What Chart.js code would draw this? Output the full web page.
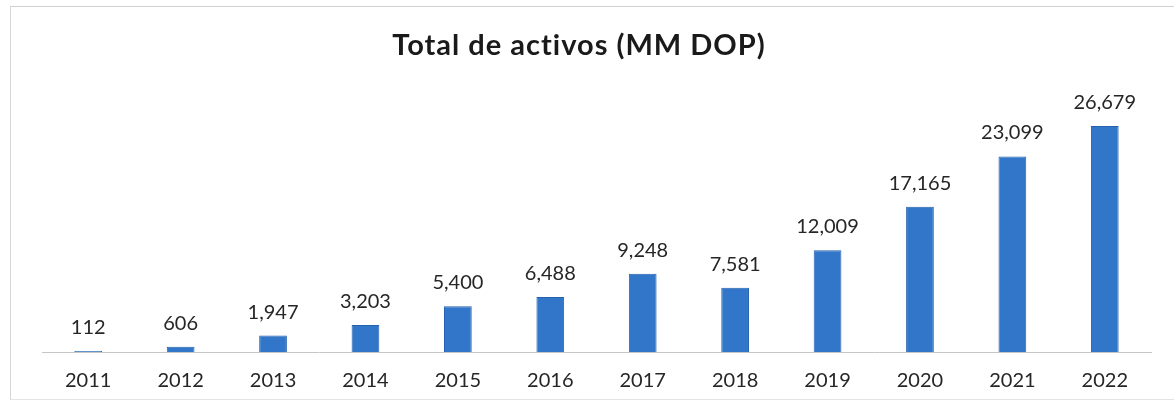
<!DOCTYPE html>
<html lang="es">
<head>
    <meta charset="UTF-8">
    <title>Total de activos (MM DOP)</title>
    <script src="https://cdn.jsdelivr.net/npm/chart.js"></script>
    <style>
        html, body { margin: 0; padding: 0; background: #fff; overflow: hidden; }
        .frame {
            position: absolute;
            left: 10px; top: 6px;
            width: 1170px; height: 392px;
            border-top: 1px solid #d0d0d0;
            border-left: 1px solid #d6d6d6;
            border-bottom: 1px solid #e4e4e4;
        }
        .chart-wrapper { position: absolute; left: 0; top: 0; width: 1174px; height: 404px; overflow: hidden; }
    </style>
</head>
<body>
    <div class="frame"></div>
    <div class="chart-wrapper">
        <canvas id="assetsChart" width="1174" height="410"></canvas>
    </div>

    <script>
        // data
        const years = ['2011', '2012', '2013', '2014', '2015', '2016', '2017', '2018', '2019', '2020', '2021', '2022'];
        const totalAssets = [112, 606, 1947, 3203, 5400, 6488, 9248, 7581, 12009, 17165, 23099, 26679];
        const chartTitle = 'Total de activos (MM DOP)';

        const FONT = 'Lato, "Open Sans", sans-serif';

        // title drawn a bit left of the plot centre, like the original
        const titleText = {
            id: 'titleText',
            afterDraw(chart) {
                const ctx = chart.ctx;
                ctx.save();
                ctx.font = 'bold 29px ' + FONT;
                ctx.letterSpacing = '1px';
                ctx.fillStyle = '#1a1a1a';
                ctx.textAlign = 'center';
                ctx.textBaseline = 'alphabetic';
                ctx.fillText(chartTitle, 579, 55);
                ctx.restore();
            }
        };

        // value labels above each bar
        const valueLabels = {
            id: 'valueLabels',
            afterDatasetsDraw(chart) {
                const ctx = chart.ctx;
                const meta = chart.getDatasetMeta(0);
                ctx.save();
                ctx.font = '20px ' + FONT;
                ctx.fillStyle = '#262626';
                ctx.textAlign = 'center';
                ctx.textBaseline = 'alphabetic';
                meta.data.forEach((bar, i) => {
                    const v = chart.data.datasets[0].data[i];
                    ctx.fillText(v.toLocaleString('en-US'), bar.x, bar.y - 17);
                });
                ctx.restore();
            }
        };

        new Chart(document.getElementById('assetsChart'), {
            type: 'bar',
            data: {
                labels: years,
                datasets: [{
                    data: totalAssets,
                    backgroundColor: '#3176c8',
                    borderColor: '#2461ae',
                    borderWidth: 1,
                    barPercentage: 0.6,
                    categoryPercentage: 0.5
                }]
            },
            options: {
                responsive: false,
                animation: false,
                layout: { padding: { left: 42, right: 23, top: 98, bottom: 0 } },
                plugins: {
                    legend: { display: false },
                    tooltip: { enabled: false },
                    title: { display: false }
                },
                scales: {
                    x: {
                        grid: { display: false, drawTicks: false },
                        border: { display: true, color: '#c6c6c6', width: 1 },
                        ticks: { color: '#262626', padding: 17, font: { family: FONT, size: 20 } }
                    },
                    y: {
                        display: false,
                        min: 0,
                        max: 30000
                    }
                }
            },
            plugins: [valueLabels, titleText]
        });
    </script>
</body>
</html>
